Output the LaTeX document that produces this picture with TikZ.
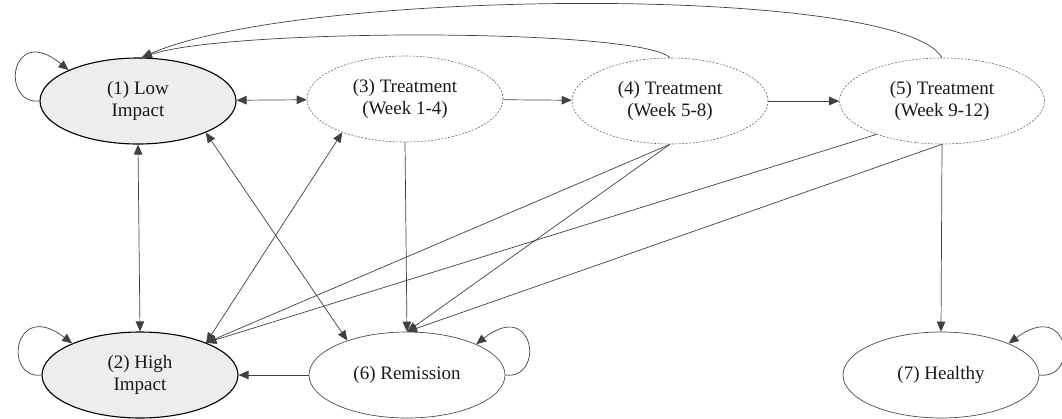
\documentclass[tikz,border=0pt]{standalone}
\usepackage{fontspec}
\setmainfont{Liberation Serif}
\usetikzlibrary{shapes.geometric,arrows.meta}
\begin{document}
\begin{tikzpicture}[x=1pt,y=-1pt,
  every node/.style={font=\fontsize{19}{22}\selectfont, text=black!90},
  st/.style={ellipse, minimum width=196pt, minimum height=86pt, inner sep=0pt, align=center, draw=black!70, line width=0.7pt},
  impact/.style={st, fill=black!7, draw=black, line width=1.1pt},
  treat/.style={st, draw=black!60, dash pattern=on 2pt off 1.5pt, line width=0.6pt},
  arr/.style={draw=black!75, line width=0.7pt, -{Triangle[length=10pt,width=8.5pt]}},
  darr/.style={arr, {Triangle[length=10pt,width=8.5pt]}-{Triangle[length=10pt,width=8.5pt]}}
]
\useasboundingbox (0,0) rectangle (1062,418);
\node[impact] (n1) at (138,101) {(1) Low\\Impact};
\node[impact] (n2) at (140,375) {(2) High\\Impact};
\node[treat] (n3) at (405,99) {(3) Treatment\\(Week 1-4)};
\node[treat] (n4) at (670,101) {(4) Treatment\\(Week 5-8)};
\node[treat, minimum width=205pt] (n5) at (942,101) {(5) Treatment\\(Week 9-12)};
\node[st] (n6) at (407,375) {(6) Remission};
\node[st] (n7) at (941,375) {(7) Healthy};
% self loops
\draw[arr] (n1.west) .. controls (0,105) and (10,22) .. (n1.156);
\draw[arr] (n2.west) .. controls (3,380) and (13,298) .. (n2.155);
\draw[arr] (n6.east) .. controls (545,380) and (535,298) .. (n6.24);
\draw[arr] (n7.east) .. controls (1080,380) and (1070,298) .. (n7.25);
% top curves
\draw[arr] (n4.north) .. controls (640,28) and (230,28) .. (n1.85);
\draw[arr] (n5.north) .. controls (900,-16) and (300,-12) .. (n1.85);
% horizontal
\draw[darr] (n1) -- (n3);
\draw[arr] (n3) -- (n4);
\draw[arr] (n4) -- (n5);
\draw[arr] (n6) -- (n2);
% vertical
\draw[darr] (n1.south) -- (n2.north);
\draw[arr] (n3.south) -- (n6.north);
\draw[arr] (n5.south) -- (n7.north);
% diagonals
\draw[darr] (n1.335) -- (n6.150);
\draw[darr] (n2.26) -- (n3.208);
\draw[arr] (n4.south) -- (n2.26);
\draw[arr] (n5.207) -- (n2.26);
\draw[arr] (n4.south) -- (n6.north);
\draw[arr] (n5.south) -- (n6.north);
\end{tikzpicture}
\end{document}
